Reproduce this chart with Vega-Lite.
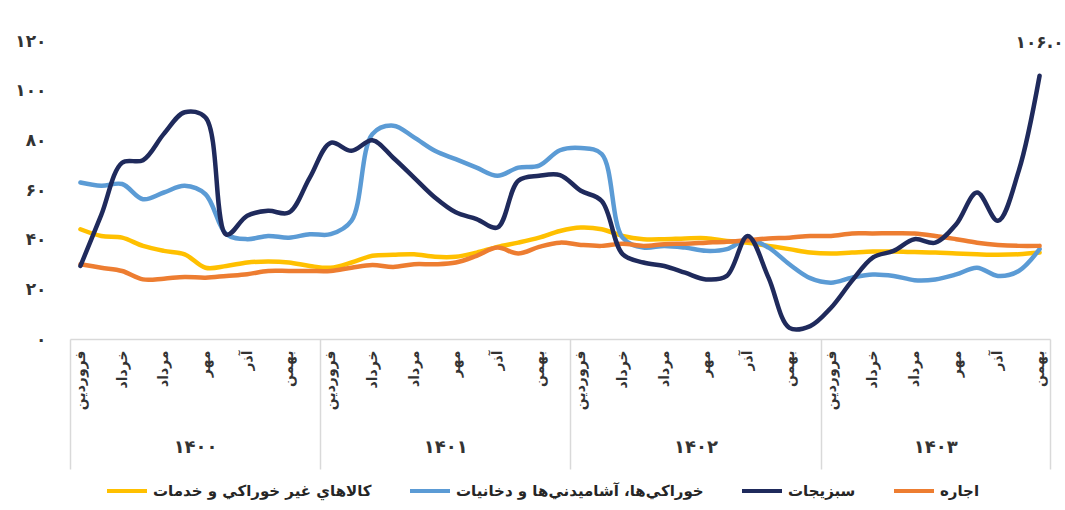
{
  "$schema": "https://vega.github.io/schema/vega-lite/v6.json",
  "width": 980,
  "height": 298,
  "autosize": {"type": "none"},
  "padding": {"left": 70, "top": 41, "right": 15, "bottom": 171},
  "background": "white",
  "config": {
    "font": "DejaVu Sans",
    "view": {"stroke": null},
    "locale": {
      "number": {
        "decimal": ".",
        "thousands": ",",
        "grouping": [3],
        "currency": ["", ""],
        "numerals": ["۰", "۱", "۲", "۳", "۴", "۵", "۶", "۷", "۸", "۹"]
      }
    }
  },
  "data": {
    "values": [
      {"i": 0, "کالاهاي غیر خوراکي و خدمات": 44.2, "خوراکي\u200cها، آشامیدني\u200cها و دخانیات": 63.0, "اجاره": 30.1, "سبزیجات": 29.4},
      {"i": 1, "کالاهاي غیر خوراکي و خدمات": 41.5, "خوراکي\u200cها، آشامیدني\u200cها و دخانیات": 61.7, "اجاره": 28.7, "سبزیجات": 50.0},
      {"i": 2, "کالاهاي غیر خوراکي و خدمات": 40.8, "خوراکي\u200cها، آشامیدني\u200cها و دخانیات": 62.4, "اجاره": 27.4, "سبزیجات": 71.0},
      {"i": 3, "کالاهاي غیر خوراکي و خدمات": 37.5, "خوراکي\u200cها، آشامیدني\u200cها و دخانیات": 56.3, "اجاره": 24.0, "سبزیجات": 72.0},
      {"i": 4, "کالاهاي غیر خوراکي و خدمات": 35.5, "خوراکي\u200cها، آشامیدني\u200cها و دخانیات": 59.0, "اجاره": 24.3, "سبزیجات": 82.6},
      {"i": 5, "کالاهاي غیر خوراکي و خدمات": 34.1, "خوراکي\u200cها، آشامیدني\u200cها و دخانیات": 61.7, "اجاره": 25.0, "سبزیجات": 91.3},
      {"i": 6, "کالاهاي غیر خوراکي و خدمات": 28.7, "خوراکي\u200cها، آشامیدني\u200cها و دخانیات": 58.3, "اجاره": 24.7, "سبزیجات": 89.2},
      {"i": 7, "کالاهاي غیر خوراکي و خدمات": 29.4, "خوراکي\u200cها، آشامیدني\u200cها و دخانیات": 42.2, "اجاره": 25.4, "سبزیجات": 42.0},
      {"i": 8, "کالاهاي غیر خوراکي و خدمات": 30.8, "خوراکي\u200cها، آشامیدني\u200cها و دخانیات": 40.2, "اجاره": 26.1, "سبزیجات": 49.6},
      {"i": 9, "کالاهاي غیر خوراکي و خدمات": 31.2, "خوراکي\u200cها، آشامیدني\u200cها و دخانیات": 41.5, "اجاره": 27.4, "سبزیجات": 51.6},
      {"i": 10, "کالاهاي غیر خوراکي و خدمات": 30.8, "خوراکي\u200cها، آشامیدني\u200cها و دخانیات": 40.8, "اجاره": 27.4, "سبزیجات": 50.9},
      {"i": 11, "کالاهاي غیر خوراکي و خدمات": 29.4, "خوراکي\u200cها، آشامیدني\u200cها و دخانیات": 42.2, "اجاره": 27.4, "سبزیجات": 65.0},
      {"i": 12, "کالاهاي غیر خوراکي و خدمات": 28.7, "خوراکي\u200cها، آشامیدني\u200cها و دخانیات": 42.2, "اجاره": 27.4, "سبزیجات": 79.0},
      {"i": 13, "کالاهاي غیر خوراکي و خدمات": 30.8, "خوراکي\u200cها، آشامیدني\u200cها و دخانیات": 47.6, "اجاره": 28.7, "سبزیجات": 75.8},
      {"i": 14, "کالاهاي غیر خوراکي و خدمات": 33.5, "خوراکي\u200cها، آشامیدني\u200cها و دخانیات": 82.5, "اجاره": 29.8, "سبزیجات": 80.0},
      {"i": 15, "کالاهاي غیر خوراکي و خدمات": 33.9, "خوراکي\u200cها، آشامیدني\u200cها و دخانیات": 85.9, "اجاره": 29.0, "سبزیجات": 73.0},
      {"i": 16, "کالاهاي غیر خوراکي و خدمات": 34.1, "خوراکي\u200cها، آشامیدني\u200cها و دخانیات": 81.2, "اجاره": 30.1, "سبزیجات": 65.0},
      {"i": 17, "کالاهاي غیر خوراکي و خدمات": 33.1, "خوراکي\u200cها، آشامیدني\u200cها و دخانیات": 75.8, "اجاره": 30.1, "سبزیجات": 57.0},
      {"i": 18, "کالاهاي غیر خوراکي و خدمات": 33.1, "خوراکي\u200cها، آشامیدني\u200cها و دخانیات": 72.4, "اجاره": 30.8, "سبزیجات": 51.0},
      {"i": 19, "کالاهاي غیر خوراکي و خدمات": 34.8, "خوراکي\u200cها، آشامیدني\u200cها و دخانیات": 69.0, "اجاره": 33.5, "سبزیجات": 48.3},
      {"i": 20, "کالاهاي غیر خوراکي و خدمات": 37.1, "خوراکي\u200cها، آشامیدني\u200cها و دخانیات": 65.7, "اجاره": 36.8, "سبزیجات": 44.9},
      {"i": 21, "کالاهاي غیر خوراکي و خدمات": 38.8, "خوراکي\u200cها، آشامیدني\u200cها و دخانیات": 69.0, "اجاره": 34.4, "سبزیجات": 63.7},
      {"i": 22, "کالاهاي غیر خوراکي و خدمات": 40.8, "خوراکي\u200cها، آشامیدني\u200cها و دخانیات": 69.8, "اجاره": 37.1, "سبزیجات": 65.7},
      {"i": 23, "کالاهاي غیر خوراکي و خدمات": 43.5, "خوراکي\u200cها، آشامیدني\u200cها و دخانیات": 76.0, "اجاره": 38.8, "سبزیجات": 66.0},
      {"i": 24, "کالاهاي غیر خوراکي و خدمات": 44.9, "خوراکي\u200cها، آشامیدني\u200cها و دخانیات": 76.9, "اجاره": 37.9, "سبزیجات": 59.7},
      {"i": 25, "کالاهاي غیر خوراکي و خدمات": 44.2, "خوراکي\u200cها، آشامیدني\u200cها و دخانیات": 74.5, "اجاره": 37.5, "سبزیجات": 55.6},
      {"i": 26, "کالاهاي غیر خوراکي و خدمات": 41.5, "خوراکي\u200cها، آشامیدني\u200cها و دخانیات": 40.8, "اجاره": 38.4, "سبزیجات": 34.2},
      {"i": 27, "کالاهاي غیر خوراکي و خدمات": 40.2, "خوراکي\u200cها، آشامیدني\u200cها و دخانیات": 36.8, "اجاره": 37.5, "سبزیجات": 30.8},
      {"i": 28, "کالاهاي غیر خوراکي و خدمات": 40.2, "خوراکي\u200cها، آشامیدني\u200cها و دخانیات": 37.5, "اجاره": 38.2, "سبزیجات": 29.4},
      {"i": 29, "کالاهاي غیر خوراکي و خدمات": 40.5, "خوراکي\u200cها، آشامیدني\u200cها و دخانیات": 36.8, "اجاره": 38.4, "سبزیجات": 26.7},
      {"i": 30, "کالاهاي غیر خوراکي و خدمات": 40.6, "خوراکي\u200cها، آشامیدني\u200cها و دخانیات": 35.5, "اجاره": 38.8, "سبزیجات": 24.0},
      {"i": 31, "کالاهاي غیر خوراکي و خدمات": 39.5, "خوراکي\u200cها، آشامیدني\u200cها و دخانیات": 36.2, "اجاره": 39.2, "سبزیجات": 25.4},
      {"i": 32, "کالاهاي غیر خوراکي و خدمات": 38.8, "خوراکي\u200cها، آشامیدني\u200cها و دخانیات": 40.2, "اجاره": 39.8, "سبزیجات": 41.5},
      {"i": 33, "کالاهاي غیر خوراکي و خدمات": 37.5, "خوراکي\u200cها، آشامیدني\u200cها و دخانیات": 36.8, "اجاره": 40.5, "سبزیجات": 24.7},
      {"i": 34, "کالاهاي غیر خوراکي و خدمات": 36.2, "خوراکي\u200cها، آشامیدني\u200cها و دخانیات": 30.1, "اجاره": 40.8, "سبزیجات": 4.5},
      {"i": 35, "کالاهاي غیر خوراکي و خدمات": 34.8, "خوراکي\u200cها، آشامیدني\u200cها و دخانیات": 24.5, "اجاره": 41.5, "سبزیجات": 5.2},
      {"i": 36, "کالاهاي غیر خوراکي و خدمات": 34.4, "خوراکي\u200cها، آشامیدني\u200cها و دخانیات": 22.7, "اجاره": 41.5, "سبزیجات": 12.6},
      {"i": 37, "کالاهاي غیر خوراکي و خدمات": 34.8, "خوراکي\u200cها، آشامیدني\u200cها و دخانیات": 24.7, "اجاره": 42.5, "سبزیجات": 23.4},
      {"i": 38, "کالاهاي غیر خوراکي و خدمات": 35.2, "خوراکي\u200cها، آشامیدني\u200cها و دخانیات": 26.0, "اجاره": 42.5, "سبزیجات": 32.8},
      {"i": 39, "کالاهاي غیر خوراکي و خدمات": 35.2, "خوراکي\u200cها، آشامیدني\u200cها و دخانیات": 25.4, "اجاره": 42.6, "سبزیجات": 35.5},
      {"i": 40, "کالاهاي غیر خوراکي و خدمات": 35.0, "خوراکي\u200cها، آشامیدني\u200cها و دخانیات": 23.7, "اجاره": 42.5, "سبزیجات": 40.2},
      {"i": 41, "کالاهاي غیر خوراکي و خدمات": 34.8, "خوراکي\u200cها، آشامیدني\u200cها و دخانیات": 24.0, "اجاره": 41.5, "سبزیجات": 38.8},
      {"i": 42, "کالاهاي غیر خوراکي و خدمات": 34.4, "خوراکي\u200cها، آشامیدني\u200cها و دخانیات": 26.0, "اجاره": 40.2, "سبزیجات": 46.2},
      {"i": 43, "کالاهاي غیر خوراکي و خدمات": 34.1, "خوراکي\u200cها، آشامیدني\u200cها و دخانیات": 28.7, "اجاره": 38.8, "سبزیجات": 59.0},
      {"i": 44, "کالاهاي غیر خوراکي و خدمات": 33.9, "خوراکي\u200cها، آشامیدني\u200cها و دخانیات": 25.4, "اجاره": 37.9, "سبزیجات": 47.6},
      {"i": 45, "کالاهاي غیر خوراکي و خدمات": 34.1, "خوراکي\u200cها، آشامیدني\u200cها و دخانیات": 27.4, "اجاره": 37.5, "سبزیجات": 67.7},
      {"i": 46, "کالاهاي غیر خوراکي و خدمات": 34.8, "خوراکي\u200cها، آشامیدني\u200cها و دخانیات": 36.2, "اجاره": 37.5, "سبزیجات": 106.0}
    ]
  },
  "transform": [
    {"fold": ["کالاهاي غیر خوراکي و خدمات", "خوراکي\u200cها، آشامیدني\u200cها و دخانیات", "اجاره", "سبزیجات"], "as": ["series", "value"]}
  ],
  "layer": [
    {
      "mark": {"type": "line", "interpolate": "catmull-rom", "strokeWidth": 4.5, "strokeCap": "round", "strokeJoin": "round"},
      "encoding": {
        "x": {
          "field": "i", "type": "quantitative",
          "scale": {"domain": [-0.5, 46.5], "nice": false, "zero": false},
          "axis": {
            "orient": "bottom", "title": null, "grid": false, "ticks": false,
            "domain": true, "domainColor": "#d9d9d9", "domainWidth": 1.5,
            "values": [0, 2, 4, 6, 8, 10, 12, 14, 16, 18, 20, 22, 24, 26, 28, 30, 32, 34, 36, 38, 40, 42, 44, 46],
            "labelExpr": "['فروردین','اردیبهشت','خرداد','تیر','مرداد','شهریور','مهر','آبان','آذر','دی','بهمن','اسفند'][datum.value % 12]",
            "labelAngle": -90, "labelAlign": "right", "labelBaseline": "middle",
            "labelPadding": 11, "labelFontSize": 14, "labelFontWeight": "bold", "labelColor": "#333333",
            "labelFlush": false, "labelOverlap": false
          }
        },
        "y": {
          "field": "value", "type": "quantitative",
          "scale": {"domain": [0, 120], "nice": false},
          "axis": {
            "title": null, "grid": false, "ticks": false, "domain": false,
            "values": [0, 20, 40, 60, 80, 100, 120],
            "labelPadding": 24, "labelFontSize": 17, "labelFontWeight": "bold", "labelColor": "#333333",
            "labelFlush": false
          }
        },
        "color": {
          "field": "series", "type": "nominal",
          "scale": {
            "domain": ["کالاهاي غیر خوراکي و خدمات", "خوراکي\u200cها، آشامیدني\u200cها و دخانیات", "سبزیجات", "اجاره"],
            "range": ["#ffc000", "#5b9bd5", "#1f2a5c", "#ed7d31"]
          },
          "legend": {
            "title": null, "orient": "none", "direction": "horizontal",
            "legendX": 35, "legendY": 428,
            "symbolType": "stroke", "symbolSize": 1600, "symbolStrokeWidth": 4,
            "labelFontSize": 15, "labelFontWeight": "bold", "labelColor": "#262626", "labelLimit": 400,
            "labelOffset": 4, "columnPadding": 30
          }
        }
      }
    },
    {
      "transform": [{"filter": {"field": "series", "equal": "سبزیجات"}}, {"filter": {"field": "i", "equal": 46}}],
      "mark": {"type": "text", "dy": -33, "fontSize": 17, "fontWeight": "bold", "color": "#333333"},
      "encoding": {
        "x": {
          "field": "i", "type": "quantitative",
          "scale": {"domain": [-0.5, 46.5], "nice": false, "zero": false},
          "axis": {
            "orient": "bottom", "title": null, "grid": false, "ticks": false, "domain": false,
            "values": [5.5, 17.5, 29.5, 41],
            "labelExpr": "['۱۴۰۰','۱۴۰۱','۱۴۰۲','۱۴۰۳'][floor(datum.value / 12)]",
            "labelAngle": 0, "labelAlign": "center", "labelBaseline": "middle",
            "offset": 108, "labelPadding": 0,
            "labelFontSize": 18, "labelFontWeight": "bold", "labelColor": "#333333",
            "labelFlush": false, "labelOverlap": false
          }
        },
        "y": {"field": "value", "type": "quantitative"},
        "text": {"field": "value", "type": "quantitative", "format": ".1f"}
      }
    },
    {
      "mark": {"type": "point", "opacity": 0},
      "encoding": {
        "x": {
          "field": "i", "type": "quantitative",
          "scale": {"domain": [-0.5, 46.5], "nice": false, "zero": false},
          "axis": {
            "orient": "bottom", "title": null, "grid": false, "labels": false, "domain": false,
            "ticks": true, "tickSize": 130, "tickColor": "#d9d9d9", "tickWidth": 1.5,
            "values": [-0.5, 11.5, 23.5, 35.5, 46.5]
          }
        },
        "y": {"field": "value", "type": "quantitative"}
      }
    }
  ],
  "resolve": {"scale": {"x": "independent"}}
}
